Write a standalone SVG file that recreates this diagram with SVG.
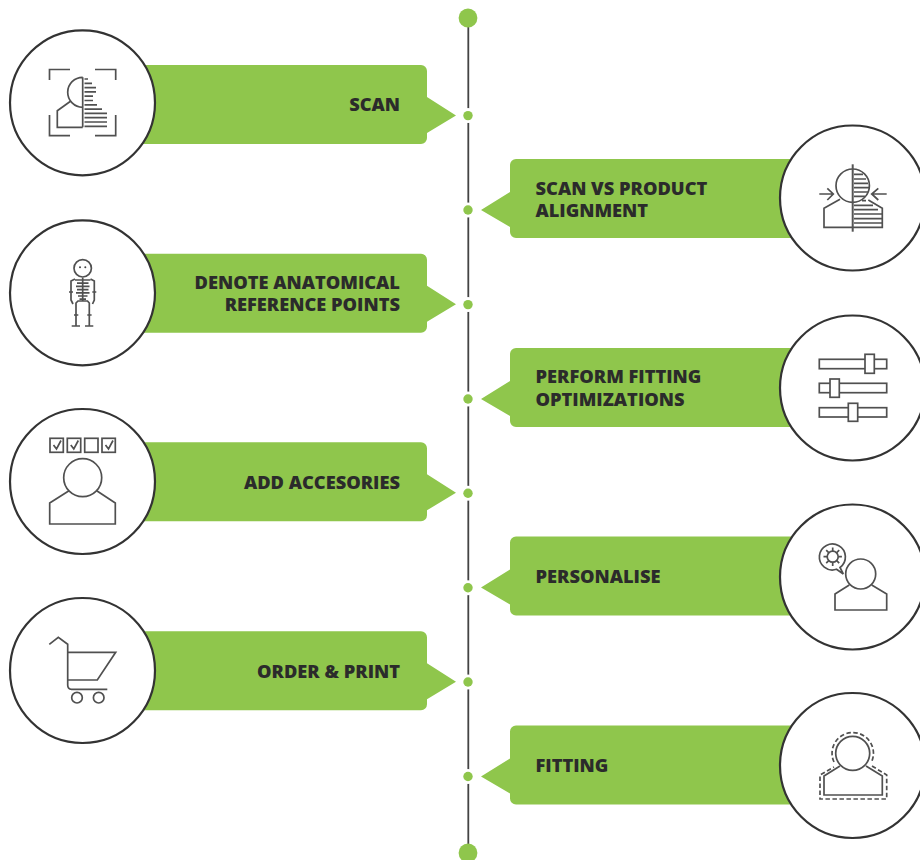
<svg xmlns="http://www.w3.org/2000/svg" width="920" height="860" viewBox="0 0 920 860">
<style>
.g{fill:#8fc64c}
.c{fill:#fff;stroke:#333;stroke-width:2.2}
.i{fill:none;stroke:#505050;stroke-width:1.7}
.b{fill:#fff;stroke:#505050;stroke-width:1.7}
.t{font-family:"Open Sans","Liberation Sans",sans-serif;font-weight:800;font-size:18.25px;fill:#2b2b2b}
.e{text-anchor:end}
</style>
<defs>
<path id="L" d="M130 0H421a6 6 0 0 1 6 6V32L456 50.500 427 68V73a6 6 0 0 1-6 6H130Z"/>
<path id="R" d="M806 0H516a6 6 0 0 0-6 6V33L481 51 510 68V73a6 6 0 0 0 6 6H806Z"/>
</defs>
<rect x="0" y="0" width="920" height="860" fill="#fff"/>
<g id="connectors">
<line x1="468.300" y1="18" x2="468.300" y2="853" stroke="#444" stroke-width="1.800"/>
<g fill="#fff"><circle cx="468" cy="115.600" r="7.500"/><circle cx="468" cy="210" r="7.500"/><circle cx="468" cy="304.600" r="7.500"/><circle cx="468" cy="399" r="7.500"/><circle cx="468" cy="493.300" r="7.500"/><circle cx="468" cy="587.700" r="7.500"/><circle cx="468" cy="682" r="7.500"/><circle cx="468" cy="776.500" r="7.500"/></g>
<g class="g"><circle cx="468" cy="18" r="9.400"/><circle cx="468" cy="853" r="9.400"/><circle cx="468" cy="115.600" r="4.700"/><circle cx="468" cy="210" r="4.700"/><circle cx="468" cy="304.600" r="4.700"/><circle cx="468" cy="399" r="4.700"/><circle cx="468" cy="493.300" r="4.700"/><circle cx="468" cy="587.700" r="4.700"/><circle cx="468" cy="682" r="4.700"/><circle cx="468" cy="776.500" r="4.700"/></g>
</g>
<g id="scan">
<use href="#L" class="g" y="65"/>
<circle class="c" cx="82.500" cy="102.800" r="72.500"/>
<path class="i" d="M49.500 80V69.500H70M95 69.500H115.700V80M49.500 115V135.700H70M95 135.700H115.700V115"/>
<path class="i" d="M82.700 77.300A15 15 0 0 0 82.700 107.300M70.500 101.300L57.300 110.700V127.300H82.700M82.700 77.300V127.300"/>
<path class="i" d="M84.500 79H88M84.500 83.300H92M84.500 87.600H96M84.500 91.900H96M84.500 96.200H93M84.500 100.500H93M84.500 104.800H97M84.500 109.100H102M84.500 113.400H107M84.500 117.700H107M84.500 122H107M84.500 126.300H107"/>
<text class="t e" x="400" y="110.500">SCAN</text>
</g>
<g id="alignment">
<use href="#R" class="g" y="159"/>
<circle class="c" cx="852.500" cy="198" r="72.500"/>
<path class="i" d="M840 199.300L824 208.300V227.300H882.300V208.300L868.300 200"/>
<circle class="b" cx="852.700" cy="185.700" r="16.700"/>
<path class="i" d="M854 174.300H863M854 179H866M854 183.300H868M854 187.700H869M854 192H868M854 196.300H865M862 200.700H866M854 205.300H873M854 209.700H878M854 214H882M854 218.700H882M854 223H882"/>
<path class="i" d="M819.300 194H833.300M827.300 188.300L833.300 194L827.300 200M886.700 194H871.700M878.300 188.300L871.700 194L878.300 200"/>
<line x1="852.700" y1="164.300" x2="852.700" y2="231.700" stroke="#555" stroke-width="2"/>
<text class="t" x="535.500" y="195">SCAN VS PRODUCT</text>
<text class="t" x="535.500" y="216.500">ALIGNMENT</text>
</g>
<g id="anatomical">
<use href="#L" class="g" y="253.700"/>
<circle class="c" cx="82.500" cy="292.800" r="72.500"/>
<circle class="i" cx="82.700" cy="268.300" r="8.700"/>
<circle cx="80" cy="267.300" r="1" fill="#444"/><circle cx="85.300" cy="267.300" r="1" fill="#444"/>
<path class="i" d="M82.700 277.700V301M75 280H90.500M77 283.200H88.500M76 286.400H89.500M77 289.600H88.500M76 292.800H89.500M78 296H87.500M79.500 299.200H86"/>
<path class="i" d="M75 279L71 281V300L73 304M90.500 279L94.300 281V300L92.500 304M69 292H73M92.300 292H96.300"/>
<path class="i" d="M76 326V303L78 301H87.500L89.300 303V326M71.700 326H80M85 326H93.300M74 315H78.300M87.300 315H91.600"/>
<text class="t e" x="400" y="289">DENOTE ANATOMICAL</text>
<text class="t e" x="400" y="310.500">REFERENCE POINTS</text>
</g>
<g id="optimizations">
<use href="#R" class="g" y="348"/>
<circle class="c" cx="852.500" cy="388" r="72.500"/>
<rect class="i" x="819.300" y="359.300" width="67.400" height="9.400"/>
<rect class="i" x="819.300" y="383.300" width="67.400" height="9.400"/>
<rect class="i" x="819.300" y="407.700" width="67.400" height="9.300"/>
<rect class="b" x="865" y="354.300" width="9.300" height="19"/>
<rect class="b" x="830" y="379" width="9.300" height="18.300"/>
<rect class="b" x="848.300" y="403.300" width="9.400" height="18"/>
<text class="t" x="535.500" y="383">PERFORM FITTING</text>
<text class="t" x="535.500" y="405.500">OPTIMIZATIONS</text>
</g>
<g id="accessories">
<use href="#L" class="g" y="442.300"/>
<circle class="c" cx="82.500" cy="481.500" r="72.500"/>
<path class="i" d="M69 490.700L49.700 503V524H115.300V503L96.700 490.700"/>
<circle class="b" cx="82.700" cy="477.700" r="19"/>
<rect class="i" x="50" y="438.300" width="13.300" height="14"/><rect class="i" x="67.300" y="438.300" width="13.400" height="14"/><rect class="i" x="84.700" y="438.300" width="13.300" height="14"/><rect class="i" x="102" y="438.300" width="13.300" height="14"/>
<path class="i" d="M53.500 445L56.500 449L61 440.500M70.800 445L73.800 449L78.300 440.500M105.500 445L108.500 449L113 440.500"/>
<text class="t e" x="400" y="488.500">ADD ACCESORIES</text>
</g>
<g id="personalise">
<use href="#R" class="g" y="536.500"/>
<circle class="c" cx="852.500" cy="577" r="72.500"/>
<path class="i" d="M849.300 585L835 594V610H886.700V594L871.700 585"/>
<circle class="b" cx="860.700" cy="574" r="15"/>
<path class="i" d="M843.300 574L836.500 569.300A13 13 0 1 1 840 567.500Z"/>
<circle class="i" cx="832.700" cy="556.700" r="5.500"/>
<path class="i" d="M832.700 547.500V551M832.700 562.400V565.900M823.500 556.700H827M838.400 556.700H841.900M826.200 550.200L828.700 552.700M836.700 560.700L839.200 563.200M826.200 563.200L828.700 560.700M836.700 552.700L839.200 550.200"/>
<text class="t" x="535.500" y="582.500">PERSONALISE</text>
</g>
<g id="order">
<use href="#L" class="g" y="631.300"/>
<circle class="c" cx="82.500" cy="670.500" r="72.500"/>
<path class="i" d="M49.300 644.300L58.300 637.300L67.700 644.300V685Q67.700 689.300 71.500 689.300H107.300M67.700 652.300H115.700L97.300 680H67.700"/>
<circle class="i" cx="77" cy="697.700" r="5.300"/><circle class="i" cx="98.700" cy="697.700" r="5.300"/>
<text class="t e" x="400" y="678">ORDER &amp; PRINT</text>
</g>
<g id="fitting">
<use href="#R" class="g" y="725.500"/>
<circle class="c" cx="852.500" cy="765.500" r="72.500"/>
<path class="i" d="M840 766L824 776V795H882.300V776L866 766"/>
<circle class="b" cx="852.700" cy="753.300" r="17"/>
<path class="i" stroke-dasharray="4.500 2.500" d="M834 762A20.700 20.700 0 1 1 871.500 762M872 766L886.700 775V799H820V775L834 767"/>
<text class="t" x="535.500" y="771.500">FITTING</text>
</g>
</svg>
